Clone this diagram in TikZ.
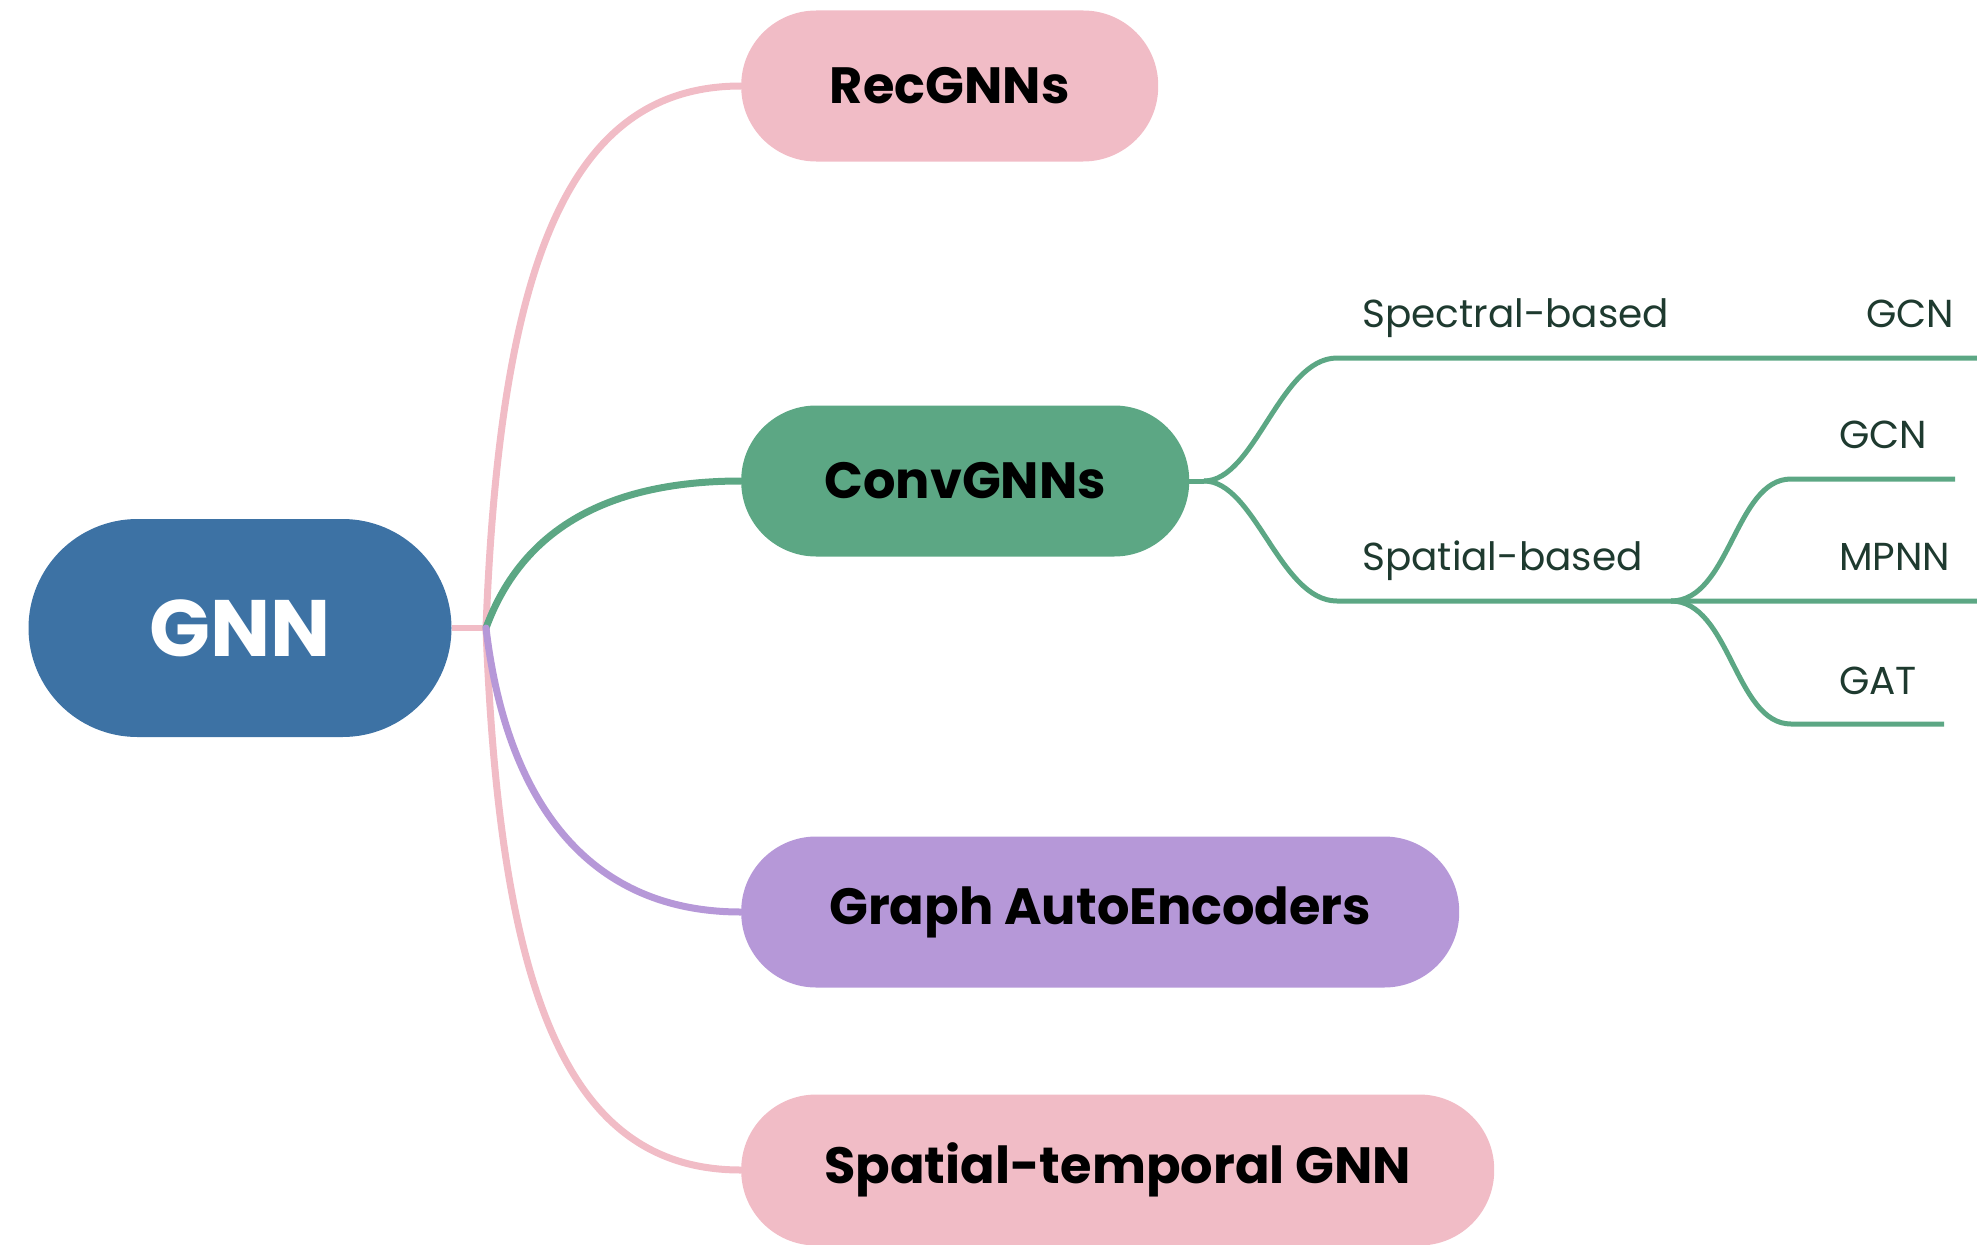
\documentclass[tikz,border=0pt]{standalone}
\usepackage{fontspec}
\setmainfont{Poppins}
\definecolor{gnnblue}{HTML}{3D72A4}
\definecolor{pinkc}{HTML}{F1BCC6}
\definecolor{greenc}{HTML}{5CA784}
\definecolor{purplec}{HTML}{B698D8}
\definecolor{labelc}{HTML}{1E3A2F}
\begin{document}
\begin{tikzpicture}[x=1pt,y=-1pt,
  topic/.style={rounded corners=75pt, minimum height=151pt, inner sep=0pt, anchor=west,
    font=\fontsize{51}{58}\selectfont\bfseries, text=black},
  leaf/.style={anchor=base west, inner sep=0pt, text=labelc, font=\fontsize{39}{46}\selectfont},
  mainline/.style={line width=7pt, line cap=round},
  subline/.style={greenc, line width=5pt}
]
\useasboundingbox (0,0) rectangle (1977,1244);

% root
\node[fill=gnnblue, rounded corners=109pt, minimum width=423pt, minimum height=218pt, inner sep=0pt,
  text=white, font=\fontsize{80}{90}\selectfont\bfseries] (gnn) at (240,628) {GNN};

% topics
\node[topic, fill=pinkc, minimum width=417pt] (rec) at (741,86) {RecGNNs};
\node[topic, fill=greenc, minimum width=448pt] (conv) at (741,481) {ConvGNNs};
\node[topic, fill=purplec, minimum width=718pt] (gae) at (741,912) {Graph AutoEncoders};
\node[topic, fill=pinkc, minimum width=753pt] (stg) at (741,1170) {Spatial-temporal GNN};

% connectors from root
\coordinate (j) at (486,628);
\draw[pinkc, line width=6pt] (gnn.east) -- (j);
\draw[pinkc, mainline] (j) .. controls (500,260) and (570,86) .. (rec.west);
\draw[pinkc, mainline] (j) .. controls (500,1000) and (570,1170) .. (stg.west);
\draw[greenc, mainline] (j) .. controls (520,535) and (600,481) .. (conv.west);
\draw[purplec, mainline] (j) .. controls (505,790) and (580,912) .. (gae.west);

% ConvGNNs subtree
\coordinate (c0) at (1204,481);
\coordinate (spec0) at (1337,358);
\coordinate (spec1) at (1977,358);
\coordinate (spat0) at (1337,601);
\coordinate (sp) at (1671,601);
\coordinate (mp1) at (1977,601);
\coordinate (gc0) at (1791,479);
\coordinate (gc1) at (1955,479);
\coordinate (ga0) at (1791,724);
\coordinate (ga1) at (1944,724);

\draw[subline] (conv.east) -- (c0);
\draw[subline] (c0) .. controls (1255,481) and (1280,358) .. (spec0) -- (spec1);
\draw[subline] (c0) .. controls (1255,481) and (1280,601) .. (spat0) -- (sp) -- (mp1);
\draw[subline] (sp) .. controls (1730,601) and (1735,479) .. (gc0) -- (gc1);
\draw[subline] (sp) .. controls (1730,601) and (1735,724) .. (ga0) -- (ga1);

\node[leaf] (speclab) at (1362,327) {Spectral-based};
\node[leaf] (gcn1) at (1866,327) {GCN};
\node[leaf] (spatlab) at (1362,570) {Spatial-based};
\node[leaf] (gcn2) at (1839,448) {GCN};
\node[leaf] (mpnn) at (1839,570) {MPNN};
\node[leaf] (gat) at (1839,694) {GAT};
\end{tikzpicture}
\end{document}
